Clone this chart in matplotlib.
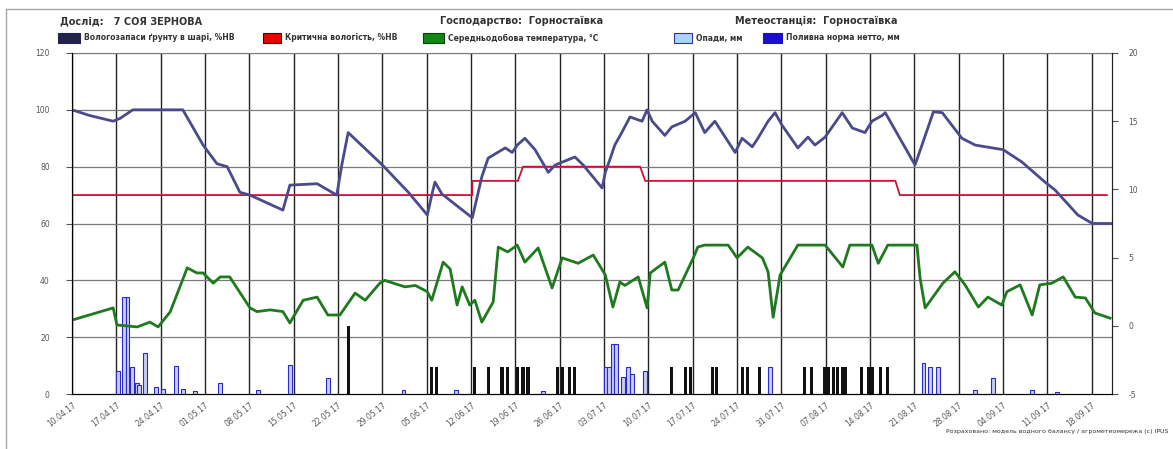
import numpy as np
import matplotlib
matplotlib.use("Agg")
import matplotlib.pyplot as plt
from matplotlib.patches import Rectangle
from matplotlib.lines import Line2D

# day offsets are counted from 10.04.17
week_labels = ["10.04.17", "17.04.17", "24.04.17", "01.05.17", "08.05.17", "15.05.17",
               "22.05.17", "29.05.17", "05.06.17", "12.06.17", "19.06.17", "26.06.17",
               "03.07.17", "10.07.17", "17.07.17", "24.07.17", "31.07.17", "07.08.17",
               "14.08.17", "21.08.17", "28.08.17", "04.09.17", "11.09.17", "18.09.17"]

# soil moisture, %НВ
moist_day = [0.0, 2.8, 6.5, 7.6, 9.6, 17.5, 20.7, 22.9, 24.5, 26.5, 28.1, 33.3, 34.4, 38.7,
             41.8, 42.6, 43.6, 49.0, 53.1, 56.1, 56.8, 57.3, 58.4, 63.2, 64.7, 65.7, 68.4,
             69.5, 70.3, 71.5, 73.1, 75.2, 76.3, 79.4, 80.7, 83.7, 84.2, 85.0, 85.7, 86.8,
             88.1, 90.0, 90.8, 91.6, 93.6, 94.7, 96.8, 98.4, 99.9, 101.5, 104.7, 105.8,
             107.4, 108.3, 109.9, 111.0, 112.1, 114.6, 116.2, 117.3, 118.9, 121.6, 123.2,
             125.2, 126.3, 127.9, 128.4, 133.1, 134.2, 136.0, 137.4, 140.5, 142.6, 145.3,
             147.0, 150.0, 153.6, 155.2, 158.8, 161.1, 164.2]
moist_val = [100, 98, 96, 97, 100, 100, 87.6, 81, 80, 71, 70, 64.7, 73.5, 74,
             70, 80.6, 92, 80.6, 71, 63, 70, 74.6, 70.4, 62, 76.4, 83, 86.6,
             85, 87.6, 90, 86, 78, 80.6, 83.4, 80.6, 72.5, 78, 83, 87.6, 92,
             97.5, 96, 100, 96, 91, 94, 96, 99, 92, 96, 85, 90,
             87, 90, 96, 99, 94.6, 86.6, 90.4, 87.6, 90.4, 99, 93.6,
             92, 96, 98, 99, 80.6, 87.6, 99.3, 99, 90, 87.6, 86.6,
             86, 81.6, 74.6, 71.8, 63, 60, 60]

# critical moisture, %НВ
crit_day = [0, 63.2, 63.2, 70.4, 71.2, 89.7, 90.5, 130.0, 130.7, 163.4]
crit_val = [70, 70, 75, 75, 80, 80, 75, 75, 70, 70]

# green series
temp_day = [0, 6.5, 7.1, 10.3, 12.3, 13.6, 15.5, 18.2, 19.7, 20.7, 22.3, 23.4, 24.9, 28.1,
            29.2, 31.3, 33.3, 34.4, 36.5, 38.7, 40.4, 42.3, 44.7, 46.3, 48.6, 49.4, 51.0,
            52.6, 54.2, 56.1, 56.8, 58.6, 59.7, 60.8, 61.6, 62.8, 63.6, 64.7, 66.5, 67.3,
            68.8, 70.3, 71.5, 73.6, 75.8, 77.4, 79.9, 82.3, 84.2, 85.4, 86.5, 87.3, 89.4,
            90.8, 91.3, 93.6, 94.7, 95.7, 98.1, 98.8, 99.9, 103.6, 105.0, 106.7, 109.0,
            109.9, 110.7, 111.8, 114.6, 118.9, 121.7, 122.8, 126.3, 127.3, 128.8, 133.4,
            133.9, 134.7, 137.5, 139.4, 141.0, 143.1, 144.6, 146.8, 147.6, 149.7, 151.6,
            152.8, 154.7, 156.5, 158.4, 160.0, 161.5, 163.9]
temp_val = [26, 30.3, 24.3, 23.6, 25.3, 23.6, 28.9, 44.4, 42.6, 42.6, 39, 41.2, 41.2, 30.3,
            29, 29.6, 29, 25, 33, 34.1, 27.8, 27.8, 35.5, 33, 39, 40, 38.8,
            37.7, 38.2, 36, 33, 46.4, 44, 31.3, 37.7, 31.3, 33, 25.3, 32.4, 51.7,
            50, 52.4, 46.4, 51.4, 37.3, 47.9, 46, 48.9, 41.9, 30.6, 39.4, 38.2, 41.2,
            30.3, 42.6, 46.4, 36.6, 36.6, 47.9, 51.7, 52.4, 52.4, 47.9, 51.7, 47.9,
            43, 27, 41.9, 52.4, 52.4, 44.7, 52.4, 52.4, 46, 52.4, 52.4,
            40.8, 30.3, 39, 43, 38.4, 30.6, 34.1, 31.3, 36, 38.4, 27.8,
            38.4, 39, 41.2, 34.1, 33.8, 28.5, 26.7]

# precipitation, mm
rain_day = [7.3, 8.2, 8.8, 9.5, 10.3, 10.6, 11.5, 13.3, 14.4, 16.4, 17.5, 19.4, 23.4, 29.4,
            34.4, 40.4, 52.3, 60.6, 74.4, 84.2, 84.8, 85.3, 85.9, 87.0, 87.8, 88.4, 90.5,
            110.2, 134.4, 135.5, 136.7, 142.6, 145.4, 151.6, 155.5]
rain_val = [8.2, 34, 34, 9.4, 4, 3, 14.6, 2.3, 1.7, 9.7, 1.7, 1, 4, 1.5,
            10.2, 5.8, 1.5, 1.5, 1, 9.4, 9.4, 17.6, 17.6, 5.9, 9.6, 7, 8.2,
            9.6, 10.8, 9.6, 9.6, 1.5, 5.6, 1.4, 0.6]

# irrigation, mm
irr_day = [43.6, 56.8, 57.6, 63.6, 65.7, 67.9, 68.7, 70.4, 71.2, 72.0, 76.7, 77.4, 78.6, 79.4,
           94.7, 96.8, 97.7, 101.1, 101.8, 105.8, 106.6, 108.6, 115.7, 116.8, 118.9, 119.5,
           120.2, 120.8, 121.6, 122.1, 124.7, 125.7, 126.3, 127.6, 128.7]
irr_val = [24] + [9.6] * 34

legend_labels = ["Вологозапаси ґрунту в шарі, %НВ", "Критична вологість, %НВ",
                 "Середньодобова температура, °С", "Опади, мм", "Поливна норма нетто, мм"]

W, H = 1173, 449
fig = plt.figure(figsize=(W / 100, H / 100), dpi=100)
fig.patch.set_facecolor("white")

def fx(px):
    return px / W

def fy(py):
    return 1 - py / H

ax = fig.add_axes([fx(72), fy(394), fx(1112) - fx(72), fy(53) - fy(394)])
ax.set_xlim(0, 164.2)
ax.set_ylim(0, 120)

# grid
for d in range(0, 162, 7):
    ax.axvline(d, color="#222222", lw=1.0, zorder=1)
for v in range(20, 121, 20):
    ax.axhline(v, color="#7a7a7a", lw=0.9, zorder=1)

ax.bar(rain_day, rain_val, width=0.55, facecolor="#c9cdf5", edgecolor="#2a2ac8", lw=0.8, zorder=3)
ax.bar(irr_day, irr_val, width=0.5, color="#111111", zorder=3)

ax.plot(temp_day, temp_val, color="#1f7a1f", lw=2.0, zorder=4)
ax.plot(crit_day, crit_val, color="#cc1136", lw=1.3, zorder=5)
ax.plot(moist_day, moist_val, color="#4a4a8c", lw=2.0, zorder=6)

ax.set_xticks(range(0, 162, 7))
ax.set_xticklabels(week_labels, rotation=38, ha="right", rotation_mode="anchor",
                   fontsize=5.5, color="#555555")
ax.set_yticks(range(0, 121, 20))
ax.set_yticklabels([str(v) for v in range(0, 121, 20)], fontsize=5.5, color="#555555")
ax.tick_params(axis="x", length=0, pad=5)
ax.tick_params(axis="y", length=4, width=0.8, colors="#555555", pad=12)
for s in ["left", "right", "bottom"]:
    ax.spines[s].set_color("#222222")
ax.spines["top"].set_color("#7a7a7a")

ax2 = ax.twinx()
ax2.set_ylim(-5, 20)
ax2.set_yticks([-5, 0, 5, 10, 15, 20])
ax2.set_yticklabels(["-5", "0", "5", "10", "15", "20"], fontsize=5.5, color="#555555")
ax2.tick_params(axis="y", length=4, width=0.8, colors="#555555", pad=8)
ax2.spines["right"].set_color("#222222")
ax2.spines["top"].set_visible(False)

# header
tc = "#333333"
fig.text(fx(60), fy(21), "Дослід:   7 СОЯ ЗЕРНОВА", fontsize=7, weight="bold", color=tc, va="center")
fig.text(fx(440), fy(21), "Господарство:  Горностаївка", fontsize=7, weight="bold", color=tc, va="center")
fig.text(fx(735), fy(21), "Метеостанція:  Горностаївка", fontsize=7, weight="bold", color=tc, va="center")

# legend row
leg = [(58, 80, "#22224a", "#22224a"), (263, 281, "#ee0000", "#440000"),
       (423, 444, "#118811", "#004400"), (674, 692, "#aad4f7", "#333399"),
       (763, 782, "#1a10cc", "#1a10cc")]
for (x0, x1, fc, ec), lab in zip(leg, legend_labels):
    fig.add_artist(Rectangle((fx(x0), fy(43)), fx(x1) - fx(x0), fy(33) - fy(43),
                             transform=fig.transFigure, facecolor=fc, edgecolor=ec, lw=0.8))
    fig.text(fx(x1 + 4), fy(38), lab, fontsize=5.5, weight="bold", color=tc, va="center")

fig.text(fx(1168), fy(432), "Розраховано: модель водного балансу / агрометеомережа (с) IPUS",
         fontsize=4.5, color=tc, ha="right", va="center")

# outer frame
fig.add_artist(Line2D([fx(6), fx(6)], [0, fy(9)], transform=fig.transFigure, color="#a8a8a8", lw=1))
fig.add_artist(Line2D([fx(6), 1], [fy(9), fy(9)], transform=fig.transFigure, color="#a8a8a8", lw=1))

fig.savefig("out.png", dpi=100)
